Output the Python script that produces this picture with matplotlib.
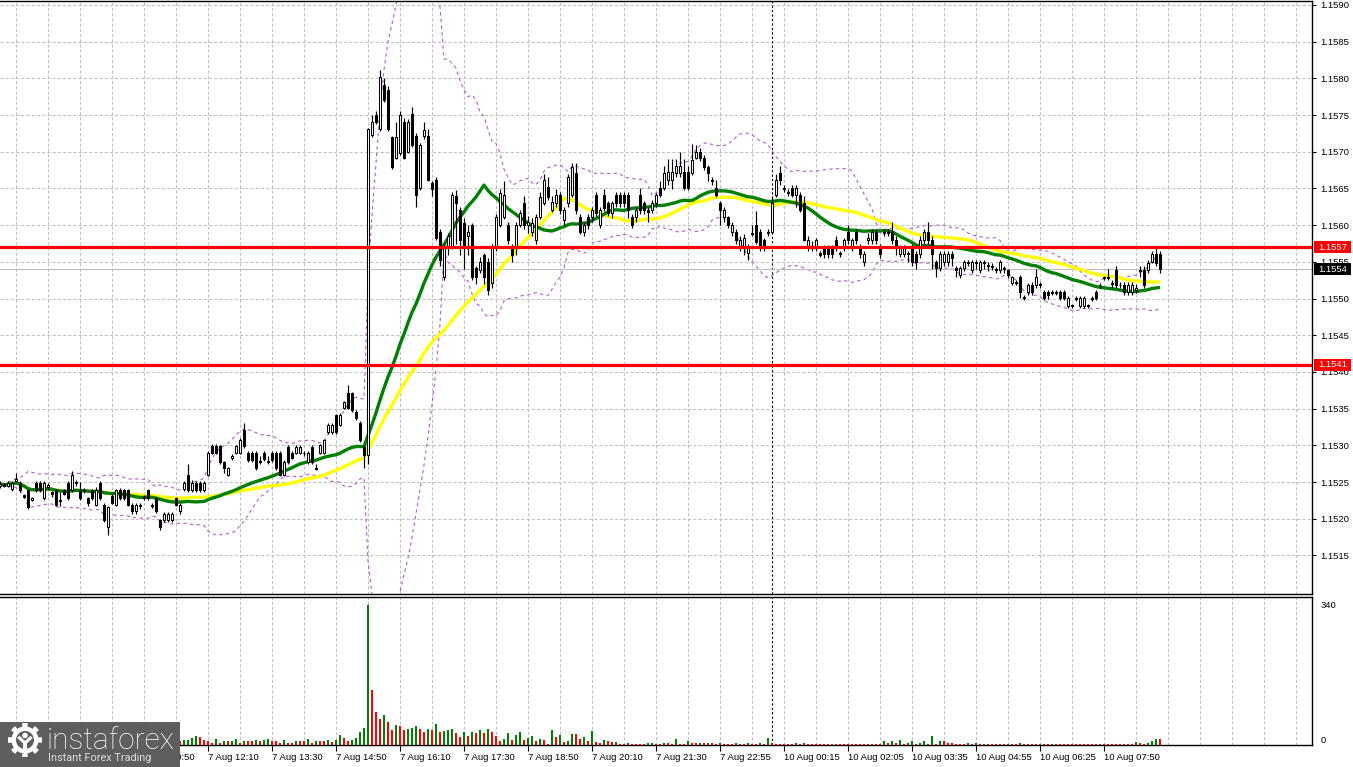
import numpy as np
import pandas as pd
import matplotlib
matplotlib.use("Agg")
import matplotlib.pyplot as plt
from matplotlib.patches import Rectangle, Polygon, Circle
import matplotlib.transforms as mtransforms

plt.rcParams['font.family'] = ['Liberation Sans', 'DejaVu Sans']

# ---------------- data (prices in 1e-5 above 1.15000) ----------------
BASE = 1.15
open_pts = [245,247,245,240,252,249,232,239,226,249,249,228,244,236,239,226,239,249,239,250,
            239,238,228,239,219,249,219,189,231,219,239,239,239,219,210,219,228,239,219,228,
            198,198,198,198,228,210,240,260,239,249,249,239,260,299,299,299,277,260,283,290,
            290,321,290,290,290,278,290,278,290,290,290,260,298,290,290,290,290,277,298,269,
            290,290,318,318,341,328,351,371,371,345,331,298,287,723,750,731,791,784,720,692,
            698,741,700,751,722,651,722,722,657,662,591,529,570,570,640,621,603,585,600,542,
            539,559,550,521,570,600,611,600,570,570,600,630,600,591,580,611,630,652,621,630,
            641,607,630,641,671,611,591,611,611,641,600,641,630,617,641,641,641,641,611,611,
            641,630,621,621,630,651,651,662,662,671,671,672,672,671,692,700,692,679,662,651,
            630,611,611,591,591,570,572,562,590,600,591,580,591,591,641,671,651,644,651,641,
            641,630,570,572,570,562,570,570,570,580,562,570,591,570,591,570,550,580,580,591,
            570,591,591,591,580,561,561,562,570,561,561,580,591,580,550,542,550,550,561,542,
            532,542,550,539,549,539,549,545,545,540,539,542,539,521,522,529,502,509,519,519,
            520,509,509,509,509,509,509,490,491,501,490,490,491,501,509,519,529,529,521,539,
            519,519,509,509,512,539,539,539,550,561,561]
close_pts = [247,245,249,249,254,239,230,216,228,239,239,249,246,234,219,224,234,228,260,249,
             228,239,222,228,239,228,198,216,222,239,228,228,219,210,219,218,229,228,218,210,
             189,207,207,207,219,219,249,239,249,239,239,249,290,290,290,277,269,269,285,299,
             307,299,280,280,269,277,281,279,280,269,260,277,277,283,298,298,289,290,277,268,
             300,307,328,328,318,341,359,351,348,338,307,287,731,741,741,802,770,731,679,720,
             750,692,741,709,641,709,730,662,650,583,553,570,585,641,630,580,570,591,529,529,
             550,529,512,570,611,644,641,580,559,600,617,600,605,603,611,638,662,638,632,641,
             621,621,665,679,621,591,600,600,621,617,621,624,617,630,630,630,630,621,600,621,
             621,621,618,630,641,641,671,672,672,681,681,651,651,689,700,692,679,671,660,641,
             621,621,600,600,580,580,583,570,588,577,570,570,589,630,662,662,650,645,641,651,
             621,580,580,570,580,560,561,561,561,570,561,580,580,580,580,561,561,582,591,580,
             561,590,590,580,570,570,570,561,550,550,580,591,580,561,542,561,561,561,555,539,
             542,550,549,550,550,550,548,546,543,539,550,541,532,529,521,509,501,519,509,529,
             519,501,505,508,508,501,501,501,490,500,501,501,490,500,501,518,528,528,520,519,
             518,509,519,519,515,538,519,549,561,549,540]
high_pts = [252,249,252,252,262,252,234,241,230,251,252,252,249,238,241,237,241,251,265,253,
            250,242,230,241,243,251,222,218,234,241,242,241,241,221,221,221,232,241,221,230,
            200,209,209,209,230,221,252,275,253,251,251,252,293,302,302,301,279,271,288,301,
            310,330,292,292,292,285,293,285,292,292,292,280,300,292,300,300,292,292,300,275,
            302,309,331,331,343,344,361,382,373,348,333,300,733,750,755,811,800,790,722,740,
            755,746,745,761,726,712,740,731,660,665,595,575,590,645,648,625,610,600,603,545,
            556,562,555,575,615,650,660,605,575,605,621,640,612,610,615,645,670,665,640,650,
            645,625,670,685,685,615,605,615,625,645,625,650,633,633,645,645,645,645,615,625,
            651,633,625,635,644,660,680,690,690,690,700,690,680,710,709,705,695,682,665,662,
            633,625,612,605,595,585,588,574,600,620,595,583,595,640,670,680,655,650,655,655,
            645,640,585,578,583,565,573,573,573,585,565,583,600,583,595,575,565,590,595,595,
            575,595,595,605,585,573,573,565,575,565,585,595,605,585,552,565,565,565,565,545,
            545,553,553,553,553,553,552,550,548,543,553,545,541,531,525,532,505,521,522,540,
            523,512,512,512,512,512,512,503,493,504,503,503,493,504,512,521,531,540,525,545,
            522,522,522,522,520,545,545,552,565,572,565]
low_pts = [242,243,243,238,250,237,228,214,224,237,236,226,239,230,217,217,232,226,237,245,
           226,235,218,226,217,226,196,178,220,217,226,226,217,207,207,214,226,226,215,208,
           185,196,196,196,217,207,238,237,237,236,237,237,258,288,288,275,262,258,280,288,
           288,297,278,278,267,274,279,274,278,267,258,258,275,281,288,288,286,275,275,266,
           288,288,316,316,316,326,349,349,346,335,305,269,275,720,738,729,768,729,676,690,
           695,690,698,706,625,648,718,660,640,580,545,525,560,568,575,560,540,560,525,520,
           535,520,505,515,565,598,609,575,550,560,598,595,590,585,575,608,628,635,618,625,
           615,600,625,638,615,588,585,595,605,612,596,620,612,610,625,625,625,610,596,605,
           615,615,605,617,625,638,648,655,650,665,665,648,648,668,690,688,675,660,655,638,
           600,605,596,585,575,565,560,553,585,574,565,565,585,588,638,655,645,640,638,625,
           618,578,565,565,565,556,555,555,555,565,556,565,575,565,575,555,545,575,575,575,
           555,585,585,575,560,556,556,550,545,540,555,575,575,540,530,538,545,545,545,530,
           528,538,545,535,540,535,540,538,539,535,535,535,528,518,518,501,498,505,505,515,
           515,498,500,505,505,498,498,487,487,497,487,487,487,497,498,515,525,525,515,515,
           515,505,505,505,508,530,515,535,548,545,535]

volumes = [8,12,6,10,14,9,7,11,15,8, 6,9,12,10,7,13,9,6,11,8, 14,10,7,9,12,18,22,15,9,11,
           8,10,13,7,9,6,10,12,8,7, 14,16,11,9,13,10,
           11,13,17,21,19,13,9,5,15,5, 9,9,10,15,5,9,9,9,13,9, 11,15,9,9,6,13,6,5,10,10,
           9,15,5,9,9,9,11,
           8,12,24,18,10,12,18,32,42,340, 134,81,63,73,57,36,49,46,36,39, 42,46,39,32,39,36,51,32,34,36,
           39,30,19,32,23,32,30,36,30,39, 32,23,10,15,30,12,24,32,12,18, 23,10,15,12,2,36,19,24,8,10,
           27,26,15,19,10,34,7,5,12,10,
           7,8,2,2,5,3,3,3,2,4, 5,3,2,6,6,3,14,3,2,10, 6,4,6,4,6,6,2,5,2,2,
           2,5,3,3,5,3,3,5,3,16, 6,3,2,2,2,2,4,3,5,3, 3,2,2,2,2,3,2,2,2,2,
           2,2,2,2,2,3,2,2,9,4, 9,6,12,3,4,9,3,6,9,3, 22,3,9,9,5,5,3,3,3,5,
           3,5,2,3,3,2,3,2,2,3, 2,2,6,2,3,2,2,3,3,2, 3,2,2,2,2,2,2,2,2,
           2,2,2,3,3,2,2,2,2,3, 3,2,8,5,3,6,10,15,14]

price_ticks = [1.1515, 1.1520, 1.1525, 1.1530, 1.1535, 1.1540, 1.1545, 1.1550,
               1.1555, 1.1560, 1.1565, 1.1570, 1.1575, 1.1580, 1.1585, 1.1590]
time_labels = ["7 Aug 10:50", "7 Aug 12:10", "7 Aug 13:30", "7 Aug 14:50", "7 Aug 16:10",
               "7 Aug 17:30", "7 Aug 18:50", "7 Aug 20:10", "7 Aug 21:30", "7 Aug 22:55",
               "10 Aug 00:15", "10 Aug 02:05", "10 Aug 03:35", "10 Aug 04:55", "10 Aug 06:25",
               "10 Aug 07:50"]
label_index = [36, 52, 68, 84, 100, 116, 132, 148, 164, 180, 196, 212, 228, 244, 260, 276]
level_high = 1.1557
level_low = 1.1541
last_price = 1.1554
vol_ticks = [0, 340]
sep_index = 193   # first bar of 10 Aug
ma_fast, ma_slow, bb_period, bb_dev = 30, 50, 20, 2

# ---------------- derived ----------------
o = BASE + np.array(open_pts) / 1e5
c = BASE + np.array(close_pts) / 1e5
h = BASE + np.array(high_pts) / 1e5
l = BASE + np.array(low_pts) / 1e5
h = np.maximum(h, np.maximum(o, c))
l = np.minimum(l, np.minimum(o, c))
vol = np.array(volumes, dtype=float)
N = len(c)
STEP = 4.0
x = np.arange(N) * STEP

cs = pd.Series(c)
sma_f = cs.rolling(ma_fast, min_periods=1).mean()
sma_s = cs.rolling(ma_slow, min_periods=1).mean()
bb_mid = cs.rolling(bb_period, min_periods=3).mean()
bb_sd = cs.rolling(bb_period, min_periods=3).std(ddof=0)
bb_up = bb_mid + bb_dev * bb_sd
bb_lo = bb_mid - bb_dev * bb_sd

# ---------------- figure ----------------
W, H = 1353, 767
fig = plt.figure(figsize=(W / 100, H / 100), dpi=100)
fig.patch.set_facecolor('white')

def px_rect(x0, y0, x1, y1):
    return [x0 / W, 1 - y1 / H, (x1 - x0) / W, (y1 - y0) / H]

AX_R = 1312
ax = fig.add_axes(px_rect(0, 1, AX_R, 594))
axv = fig.add_axes(px_rect(0, 597, AX_R, 745))

PX_PER_PIP = 7.34
p_top = 1.1590 + 4 / PX_PER_PIP * 1e-4
p_bot = 1.1590 - 589 / PX_PER_PIP * 1e-4
for a in (ax, axv):
    a.set_xlim(0, AX_R)
    a.set_facecolor('white')
    a.spines['left'].set_visible(False)
    for s in ('right', 'top', 'bottom'):
        a.spines[s].set_color('black')
        a.spines[s].set_linewidth(1.0)
ax.set_ylim(p_bot, p_top)
axv.set_ylim(0, 359)

grid_kw = dict(color='#c0c0c0', lw=0.75, ls=(0, (3, 2)), zorder=0.5)
grid_idx = np.arange(4, AX_R / STEP, 8)
for gi in grid_idx:
    ax.axvline(gi * STEP, **grid_kw)
    axv.axvline(gi * STEP, **grid_kw)
for pt in price_ticks:
    ax.axhline(pt, **grid_kw)

# separator of days
for a in (ax, axv):
    a.axvline(sep_index * STEP, color='black', lw=0.8, ls=(0, (2, 2)), zorder=1)

# Bollinger bands
bb_kw = dict(color='#ba55d3', lw=0.8, ls=(0, (3, 3)), zorder=1.2)
ax.plot(x, bb_up, **bb_kw)
ax.plot(x, bb_lo, **bb_kw)

# moving averages
ax.plot(x, sma_s, color='#ffff00', lw=2.4, zorder=1.6, solid_capstyle='butt')
ax.plot(x, sma_f, color='#008000', lw=2.4, zorder=1.7, solid_capstyle='butt')

# current price line
ax.axhline(last_price, color='#c0c0c0', lw=0.8, zorder=1.4)

# candles
ax.vlines(x, l, h, color='black', lw=0.85, zorder=3)
body_lo = np.minimum(o, c)
body_hi = np.maximum(o, c)
body_h = np.maximum(body_hi - body_lo, 0.000012)
up = c >= o
ax.bar(x[up], body_h[up], bottom=body_lo[up], width=2.8, facecolor='white',
       edgecolor='black', linewidth=0.75, zorder=3.2)
ax.bar(x[~up], body_h[~up], bottom=body_lo[~up], width=2.8, facecolor='black',
       edgecolor='black', linewidth=0.75, zorder=3.2)

# levels
for lv in (level_high, level_low):
    ax.axhline(lv, color='#ff0000', lw=2.3, zorder=4)

# price axis
ax.yaxis.tick_right()
ax.set_yticks(price_ticks)
ax.set_yticklabels([f"{v:.4f}" for v in price_ticks])
ax.tick_params(axis='y', length=3, width=0.8, pad=3, labelsize=6.8, colors='black')
ax.set_xticks([])

# right-side value boxes
trans = mtransforms.blended_transform_factory(ax.transAxes, ax.transData)
half = 6 / PX_PER_PIP * 1e-4
for val, fc in ((level_high, '#ff0000'), (level_low, '#ff0000'), (last_price, 'black')):
    ax.add_patch(Rectangle((1314 / AX_R, val - half), 37 / AX_R, 2 * half, transform=trans,
                           facecolor=fc, edgecolor='none', clip_on=False, zorder=10))
    ax.text(1318 / AX_R, val, f"{val:.4f}", transform=trans, ha='left', va='center',
            fontsize=6.8, color='white', zorder=11, clip_on=False)

# volumes
vcol = ['#008000'] + ['#008000' if vol[k] > vol[k - 1] else '#ff0000' for k in range(1, N)]
axv.bar(x, vol, width=2.8, color=vcol, zorder=3)
axv.yaxis.tick_right()
axv.set_yticks(vol_ticks)
axv.set_yticklabels([str(v) for v in vol_ticks])
axv.tick_params(axis='y', length=0, pad=6, labelsize=6.8)
for lab in axv.get_yticklabels():
    if lab.get_text() == '0':
        lab.set_va('bottom')
axv.set_xticks(np.array(label_index) * STEP)
axv.set_xticklabels(time_labels, ha='left')
axv.tick_params(axis='x', length=4, width=0.8, pad=2, labelsize=6.8, direction='out')

# ---------------- logo overlay ----------------
ov = fig.add_axes([0, 0, 1, 1], zorder=20)
ov.set_xlim(0, W)
ov.set_ylim(H, 0)
ov.axis('off')
ov.patch.set_alpha(0)
ov.add_patch(Rectangle((0, 722), 180, 45, facecolor='#5e5e5e', edgecolor='none'))
gcx, gcy = 25, 740
t = np.linspace(0, 2 * np.pi, 480)
rr = np.where(np.cos(8 * t) > 0.15, 17.0, 13.5)
ov.add_patch(Polygon(np.c_[gcx + rr * np.cos(t), gcy + rr * np.sin(t)], closed=True,
                     facecolor='white', edgecolor='none'))
ov.add_patch(Circle((gcx, gcy), 9.0, facecolor='#5e5e5e', edgecolor='none'))
ov.add_patch(Circle((gcx, gcy - 4.5), 2.8, facecolor='white', edgecolor='none'))
ov.plot([gcx - 5.5, gcx, gcx + 5.5], [gcy - 2, gcy + 3, gcy - 2], color='white', lw=2.3)
ov.plot([gcx, gcx], [gcy + 3, gcy + 11], color='white', lw=2.8)
ov.text(47, 749, "instaforex", fontsize=21.5, color='white', ha='left', va='baseline',
        family=['Roboto', 'DejaVu Sans'], weight='light')
ov.text(48, 758, "Instant Forex Trading", fontsize=7.8, color='#dddddd', ha='left',
        va='center', family=['Roboto', 'DejaVu Sans'])

fig.savefig('out.png', dpi=100, facecolor='white')
